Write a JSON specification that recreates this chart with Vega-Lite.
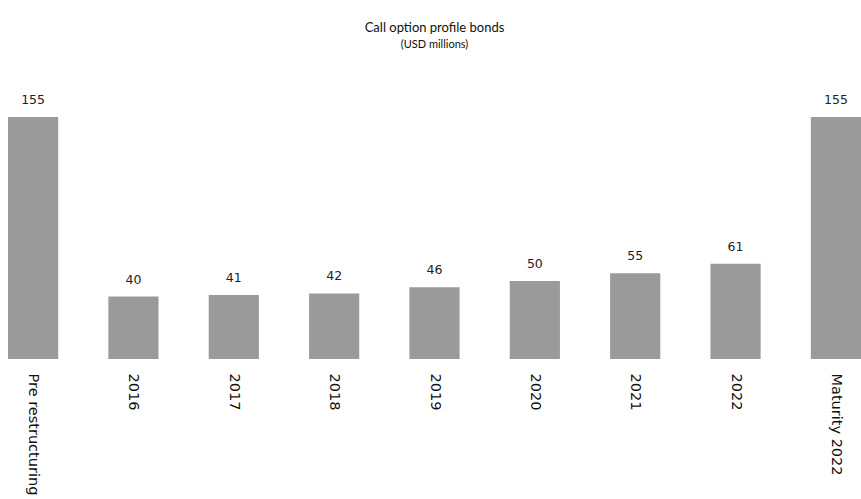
{
  "$schema": "https://vega.github.io/schema/vega-lite/v6.json",
  "autosize": {"type": "none"},
  "width": 853,
  "height": 242,
  "padding": {"left": 8, "top": 117, "right": 0, "bottom": 140},
  "background": "white",
  "title": {
    "text": "Call option profile bonds",
    "subtitle": "(USD millions)",
    "anchor": "middle",
    "font": "Lato",
    "fontSize": 13,
    "fontWeight": "normal",
    "color": "#111111",
    "subtitleFont": "Lato",
    "subtitleFontSize": 11,
    "subtitleColor": "#111111",
    "subtitlePadding": 4,
    "offset": 44
  },
  "data": {
    "values": [
      {"period": "Pre restructuring", "value": 155},
      {"period": "2016", "value": 40},
      {"period": "2017", "value": 41},
      {"period": "2018", "value": 42},
      {"period": "2019", "value": 46},
      {"period": "2020", "value": 50},
      {"period": "2021", "value": 55},
      {"period": "2022", "value": 61},
      {"period": "Maturity 2022", "value": 155}
    ]
  },
  "encoding": {
    "x": {
      "field": "period",
      "type": "nominal",
      "sort": null,
      "scale": {"paddingInner": 0.5, "paddingOuter": 0},
      "axis": {
        "title": null,
        "domain": false,
        "ticks": false,
        "labelAngle": 90,
        "labelAlign": "left",
        "labelBaseline": "middle",
        "labelPadding": 14,
        "labelFont": "DejaVu Sans",
        "labelFontSize": 14.5,
        "labelColor": "#111111",
        "labelLimit": 300
      }
    },
    "y": {
      "field": "value",
      "type": "quantitative",
      "scale": {"domain": [0, 155], "nice": false, "zero": true},
      "axis": null
    }
  },
  "layer": [
    {"mark": {"type": "bar", "color": "#9a9a9a"}},
    {
      "mark": {"type": "text", "baseline": "bottom", "dy": -10, "font": "DejaVu Sans", "fontSize": 12.5, "color": "#222222"},
      "encoding": {"text": {"field": "value", "type": "quantitative"}}
    }
  ],
  "config": {"view": {"stroke": null}}
}
